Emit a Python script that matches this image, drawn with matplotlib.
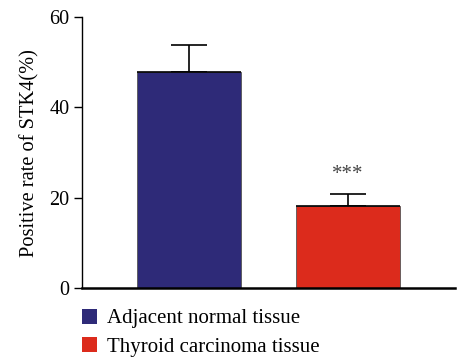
import matplotlib.pyplot as plt
from matplotlib.patches import Patch

groups = ['Adjacent normal tissue', 'Thyroid carcinoma tissue']
means = [47.8, 18.2]
errs = [6.1, 2.6]
colors = ['#2e2a78', '#dc2b1c']
yticks = [0, 20, 40, 60]

plt.rcParams['font.family'] = 'Liberation Serif'

fig = plt.figure(figsize=(4.6, 3.62), dpi=100)
ax = fig.add_axes([0.178, 0.204, 0.811, 0.749])

x = [0, 1]
ax.bar(x, means, width=0.652, color=colors, edgecolor='#555555', linewidth=0.6, zorder=2)
ax.errorbar(x, means, yerr=[[0, 0], errs], fmt='none', ecolor='black',
            elinewidth=1.2, capsize=13, capthick=1.2, zorder=1)
# bar top lines
for xi, m in zip(x, means):
    ax.hlines(m, xi - 0.326, xi + 0.326, color='black', linewidth=1.2, zorder=3)

ax.text(1, means[1] + errs[1] + 2.3, '***', ha='center', va='bottom', fontsize=15, color='#444444')

ax.set_xlim(-0.67, 1.67)
ax.set_ylim(0, 60)
ax.set_yticks(yticks)
ax.set_xticks([])
ax.tick_params(axis='y', labelsize=14.5, length=6, width=1, direction='out', pad=3)
ax.spines['top'].set_visible(False)
ax.spines['right'].set_visible(False)
ax.spines['left'].set_linewidth(1.0)
ax.spines['bottom'].set_linewidth(1.8)
ax.set_ylabel('Positive rate of STK4(%)', fontsize=14.7, labelpad=7)

handles = [Patch(facecolor=c, edgecolor='none') for c in colors]
fig.legend(handles, groups, loc='upper left', bbox_to_anchor=(0.179, 0.147),
           frameon=False, fontsize=15, handlelength=0.72, handleheight=0.72,
           handletextpad=0.45, labelspacing=0.4, borderaxespad=0, borderpad=0)

fig.savefig('out.png', dpi=100)
